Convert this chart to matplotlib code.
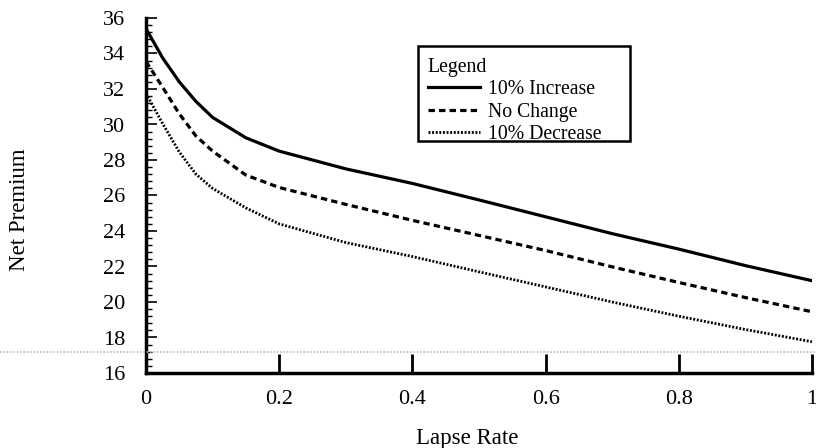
import matplotlib
matplotlib.use("Agg")
import matplotlib.pyplot as plt
from matplotlib.ticker import MultipleLocator
from matplotlib.patches import Rectangle

lapse = [0.0, 0.025, 0.05, 0.075, 0.1, 0.15, 0.2, 0.3, 0.4, 0.5, 0.6, 0.7, 0.8, 0.9, 1.0]
inc = [35.4, 33.75, 32.4, 31.3, 30.4, 29.25, 28.5, 27.5, 26.68, 25.75, 24.8, 23.85, 22.98, 22.05, 21.2]
nochg = [33.55, 32.1, 30.6, 29.35, 28.5, 27.15, 26.45, 25.5, 24.6, 23.75, 22.9, 21.98, 21.1, 20.25, 19.45]
dec = [31.75, 30.05, 28.45, 27.2, 26.4, 25.3, 24.4, 23.35, 22.56, 21.7, 20.85, 20.0, 19.2, 18.45, 17.76]
labels = ["10% Increase", "No Change", "10% Decrease"]
xticks = [0, 0.2, 0.4, 0.6, 0.8, 1]
xticklabels = ["0", "0.2", "0.4", "0.6", "0.8", "1"]
yticks = list(range(16, 37, 2))

plt.rcParams['font.family'] = ['Liberation Serif', 'DejaVu Serif']
plt.rcParams['font.size'] = 14

W, H = 816, 448
fig = plt.figure(figsize=(W/100, H/100), dpi=100)
ax = fig.add_axes([146/W, 1-373/H, (812-146)/W, (373-18)/H])

ax.plot(lapse, inc, color='black', lw=2.3, ls='-', label=labels[0])
ax.plot(lapse, nochg, color='black', lw=2.3, ls=(0, (2.0, 1.3)), label=labels[1])
ax.plot(lapse, dec, color='black', lw=2.0, ls=(0, (0.7, 0.6)), label=labels[2])

ax.set_xlim(0, 1)
ax.set_ylim(16, 36)
ax.set_xticks(xticks)
ax.set_xticklabels(xticklabels, fontsize=16)
ax.set_yticks(yticks)
ax.set_yticklabels([str(v) for v in yticks], fontsize=16)
ax.yaxis.set_minor_locator(MultipleLocator(0.4))
for s in ['top', 'right']:
    ax.spines[s].set_visible(False)
for s in ['left', 'bottom']:
    ax.spines[s].set_linewidth(2.5)
ax.tick_params(axis='x', direction='in', length=14, width=2, pad=12)
ax.tick_params(axis='y', which='major', direction='in', length=8, width=1.2, pad=15)
ax.tick_params(axis='y', which='minor', direction='in', length=4, width=1.0)

fig.text(467/W, 1-438/H, "Lapse Rate", fontsize=16.5, ha='center', va='center')
fig.text(20/W, 1-210/H, "Net Premium", fontsize=16.5, ha='center', va='center', rotation=90)

leg = fig.legend(title="Legend", loc='upper left', bbox_to_anchor=(408/W, 1-38/H),
                 bbox_transform=fig.transFigure,
                 frameon=False, fontsize=14.2, title_fontsize=14.2,
                 handlelength=2.65, handletextpad=0.4,
                 borderpad=0.5, labelspacing=0.18, alignment='left')
fig.add_artist(Rectangle((418/W, 1-141/H), 212/W, 95/H, transform=fig.transFigure,
                         fill=False, edgecolor='black', lw=1.8))

# faint scan line
fig.add_artist(plt.Line2D([0, 1], [1-352/H, 1-352/H], transform=fig.transFigure,
                          color='#bbbbbb', lw=1.2, ls=(0, (1, 1))))

fig.savefig("out.png", dpi=100)
